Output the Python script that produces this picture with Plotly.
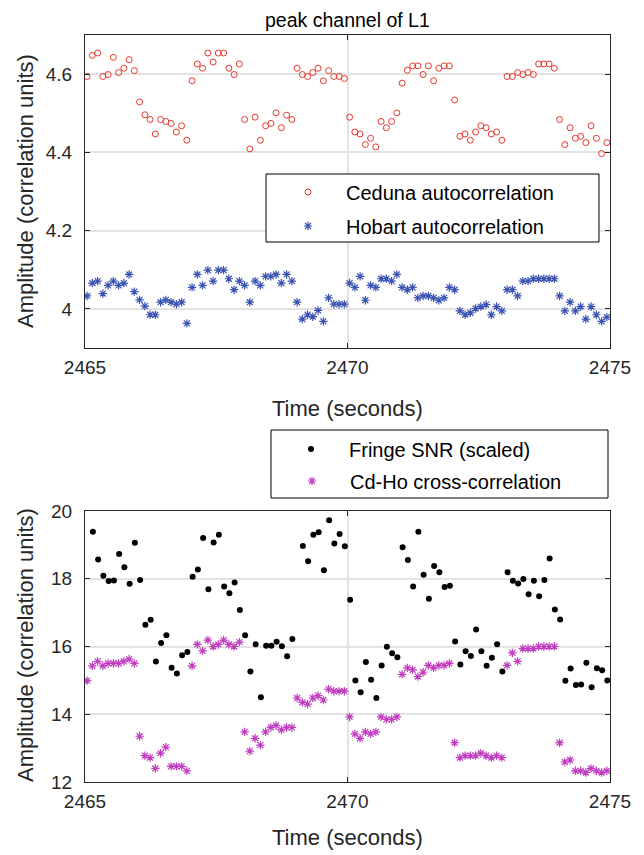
import plotly.graph_objects as go

# ---------------- data ----------------
# sample times (seconds) for the autocorrelation / cross-correlation series
t_main = [2465.04, 2465.14, 2465.24, 2465.34, 2465.44, 2465.54, 2465.64, 2465.74, 2465.84, 2465.94,
          2466.04, 2466.14, 2466.24, 2466.34, 2466.44, 2466.54, 2466.64, 2466.74, 2466.84, 2466.94,
          2467.04, 2467.14, 2467.24, 2467.34, 2467.44, 2467.54, 2467.64, 2467.74, 2467.84, 2467.94,
          2468.04, 2468.14, 2468.24, 2468.34, 2468.44, 2468.54, 2468.64, 2468.74, 2468.84, 2468.94,
          2469.04, 2469.14, 2469.24, 2469.34, 2469.44, 2469.54, 2469.64, 2469.74, 2469.84, 2469.94,
          2470.04, 2470.14, 2470.24, 2470.34, 2470.44, 2470.54, 2470.64, 2470.74, 2470.84, 2470.94,
          2471.04, 2471.14, 2471.24, 2471.34, 2471.44, 2471.54, 2471.64, 2471.74, 2471.84, 2471.94,
          2472.04, 2472.14, 2472.24, 2472.34, 2472.44, 2472.54, 2472.64, 2472.74, 2472.84, 2472.94,
          2473.04, 2473.14, 2473.24, 2473.34, 2473.44, 2473.54, 2473.64, 2473.74, 2473.84, 2473.94,
          2474.04, 2474.14, 2474.24, 2474.34, 2474.44, 2474.54, 2474.64, 2474.74, 2474.84, 2474.94]

ceduna = [4.594, 4.648, 4.654, 4.594, 4.599, 4.643, 4.604, 4.615, 4.637, 4.609,
          4.529, 4.496, 4.484, 4.447, 4.484, 4.479, 4.474, 4.452, 4.468, 4.431,
          4.583, 4.626, 4.615, 4.654, 4.631, 4.654, 4.654, 4.615, 4.599, 4.626,
          4.484, 4.409, 4.490, 4.431, 4.468, 4.474, 4.501, 4.463, 4.495, 4.484,
          4.615, 4.599, 4.594, 4.604, 4.615, 4.583, 4.609, 4.594, 4.594, 4.589,
          4.490, 4.452, 4.447, 4.420, 4.436, 4.414, 4.479, 4.463, 4.479, 4.501,
          4.577, 4.610, 4.621, 4.621, 4.599, 4.621, 4.583, 4.615, 4.621, 4.621,
          4.534, 4.441, 4.447, 4.431, 4.452, 4.468, 4.463, 4.447, 4.452, 4.431,
          4.594, 4.594, 4.604, 4.599, 4.604, 4.599, 4.626, 4.626, 4.626, 4.615,
          4.484, 4.420, 4.463, 4.436, 4.441, 4.425, 4.468, 4.436, 4.397, 4.425]

hobart = [4.033, 4.066, 4.071, 4.039, 4.060, 4.071, 4.060, 4.066, 4.088, 4.044,
          4.023, 4.007, 3.985, 3.985, 4.017, 4.023, 4.017, 4.012, 4.017, 3.963,
          4.055, 4.088, 4.060, 4.099, 4.071, 4.099, 4.099, 4.077, 4.049, 4.071,
          4.060, 4.017, 4.071, 4.060, 4.083, 4.083, 4.088, 4.066, 4.088, 4.071,
          4.017, 3.974, 3.985, 3.980, 3.996, 3.968, 4.028, 4.012, 4.012, 4.012,
          4.066, 4.055, 4.083, 4.022, 4.060, 4.055, 4.077, 4.077, 4.071, 4.088,
          4.055, 4.049, 4.055, 4.028, 4.033, 4.033, 4.028, 4.022, 4.028, 4.055,
          4.049, 3.995, 3.985, 3.990, 4.001, 4.006, 4.011, 3.985, 4.006, 3.995,
          4.049, 4.049, 4.033, 4.071, 4.071, 4.077, 4.077, 4.077, 4.077, 4.077,
          4.033, 3.995, 4.017, 3.995, 4.006, 3.974, 4.006, 3.985, 3.968, 3.979]

crosscorr = [14.99, 15.43, 15.56, 15.43, 15.50, 15.50, 15.50, 15.56, 15.63, 15.50,
             13.35, 12.78, 12.72, 12.40, 12.85, 13.03, 12.46, 12.46, 12.46, 12.33,
             15.43, 16.06, 15.87, 16.19, 16.00, 16.06, 16.19, 16.06, 16.00, 16.13,
             13.48, 12.91, 13.29, 13.09, 13.48, 13.61, 13.67, 13.54, 13.61, 13.61,
             14.48, 14.35, 14.30, 14.48, 14.55, 14.42, 14.74, 14.68, 14.68, 14.68,
             13.92, 13.42, 13.29, 13.48, 13.42, 13.48, 13.92, 13.85, 13.85, 13.92,
             15.18, 15.37, 15.31, 15.11, 15.24, 15.44, 15.37, 15.44, 15.44, 15.50,
             13.16, 12.72, 12.78, 12.78, 12.78, 12.85, 12.78, 12.72, 12.78, 12.72,
             15.44, 15.81, 15.56, 15.94, 15.94, 15.94, 16.00, 16.00, 16.00, 16.00,
             13.16, 12.59, 12.65, 12.33, 12.33, 12.28, 12.40, 12.33, 12.28, 12.33]

# fringe SNR sample times (one sample missing near 2469.05)
t_snr = [2465.15, 2465.25, 2465.35, 2465.45, 2465.55, 2465.65, 2465.75, 2465.85, 2465.95,
         2466.05, 2466.15, 2466.25, 2466.35, 2466.45, 2466.55, 2466.65, 2466.75, 2466.85, 2466.95,
         2467.05, 2467.15, 2467.25, 2467.35, 2467.45, 2467.55, 2467.65, 2467.75, 2467.85, 2467.95,
         2468.05, 2468.15, 2468.25, 2468.35, 2468.45, 2468.55, 2468.65, 2468.75, 2468.85, 2468.95,
         2469.15, 2469.25, 2469.35, 2469.45, 2469.55, 2469.65, 2469.75, 2469.85, 2469.95,
         2470.05, 2470.15, 2470.25, 2470.35, 2470.45, 2470.55, 2470.65, 2470.75, 2470.85, 2470.95,
         2471.05, 2471.15, 2471.25, 2471.35, 2471.45, 2471.55, 2471.65, 2471.75, 2471.85, 2471.95,
         2472.05, 2472.15, 2472.25, 2472.35, 2472.45, 2472.55, 2472.65, 2472.75, 2472.85, 2472.95,
         2473.05, 2473.15, 2473.25, 2473.35, 2473.45, 2473.55, 2473.65, 2473.75, 2473.85, 2473.95,
         2474.05, 2474.15, 2474.25, 2474.35, 2474.45, 2474.55, 2474.65, 2474.75, 2474.85, 2474.95]

fringe_snr = [19.39, 18.57, 18.09, 17.93, 17.95, 18.73, 18.34, 17.85, 19.06,
              17.96, 16.64, 16.79, 15.56, 16.10, 16.33, 15.37, 15.20, 15.74, 15.84,
              18.06, 18.27, 19.20, 17.69, 19.07, 19.30, 17.77, 17.57, 17.89, 17.08,
              16.33, 15.26, 16.07, 14.50, 16.02, 16.02, 16.14, 16.01, 15.71, 16.22,
              18.97, 18.52, 19.30, 19.37, 18.25, 19.73, 19.04, 19.32, 18.96,
              17.38, 15.00, 14.65, 15.54, 15.02, 14.48, 15.44, 15.99, 15.80, 15.68,
              18.93, 18.55, 17.77, 19.39, 18.12, 17.41, 18.38, 18.19, 17.76, 17.79,
              16.15, 15.47, 15.86, 15.72, 16.50, 15.86, 15.43, 15.67, 16.07, 15.26,
              18.19, 17.94, 17.86, 17.99, 17.54, 17.94, 17.48, 17.96, 18.60, 17.09,
              16.80, 14.99, 15.35, 14.86, 14.88, 15.52, 14.80, 15.36, 15.30, 15.00]

x_ticks = [2465, 2470, 2475]
x_ticklabels = ["2465", "2470", "2475"]
y1_ticks = [4.0, 4.2, 4.4, 4.6]
y1_ticklabels = ["4", "4.2", "4.4", "4.6"]
y2_ticks = [12, 14, 16, 18, 20]
y2_ticklabels = ["12", "14", "16", "18", "20"]

# ---------------- layout helpers ----------------
# the page body has an 8px default margin, so the figure is drawn 8px smaller
# and all window-pixel positions are converted with that offset
OFF = 8
W, H = 644 - OFF, 855 - OFF
def px(x):
    return (x - OFF) / W
def py(y):
    return 1 - (y - OFF) / H

FONT = "Liberation Sans, Arial, Helvetica, sans-serif"
AX = "#262626"
RED = "#e8362c"
BLUE = "#3a52b2"
MAG = "#c03cc0"

fig = go.Figure()

fig.add_trace(go.Scatter(x=t_main, y=ceduna, mode="markers", name="Ceduna autocorrelation",
                         xaxis="x", yaxis="y", legend="legend", showlegend=True,
                         marker=dict(symbol="circle-open", size=6, color=RED, line=dict(width=1, color=RED))))
fig.add_trace(go.Scatter(x=t_main, y=hobart, mode="markers", name="Hobart autocorrelation",
                         xaxis="x", yaxis="y", legend="legend2", showlegend=True,
                         marker=dict(symbol="asterisk-open", size=7, color=BLUE, line=dict(width=1.2, color=BLUE))))
fig.add_trace(go.Scatter(x=t_snr, y=fringe_snr, mode="markers", name="Fringe SNR (scaled)",
                         xaxis="x2", yaxis="y2", legend="legend3", showlegend=True,
                         marker=dict(symbol="circle", size=6, color="black")))
fig.add_trace(go.Scatter(x=t_main, y=crosscorr, mode="markers", name="Cd-Ho cross-correlation",
                         xaxis="x2", yaxis="y2", legend="legend4", showlegend=True,
                         marker=dict(symbol="asterisk-open", size=7, color=MAG, line=dict(width=1.2, color=MAG))))

common_x = dict(range=[2465, 2475], tickvals=x_ticks, ticktext=x_ticklabels, automargin=False,
                showgrid=True, gridcolor="#e3e3e3", gridwidth=2, zeroline=False,
                showline=True, linecolor=AX, linewidth=1, mirror="ticks",
                ticks="inside", ticklen=5, tickcolor=AX, tickwidth=1,
                tickfont=dict(family=FONT, size=19, color=AX), ticklabelstandoff=2)
common_y = dict(showgrid=True, gridcolor="#e3e3e3", gridwidth=2, zeroline=False, automargin=False,
                showline=True, linecolor=AX, linewidth=1, mirror="ticks",
                ticks="inside", ticklen=5, tickcolor=AX, tickwidth=1,
                tickfont=dict(family=FONT, size=19, color=AX), ticklabelstandoff=8)

fig.update_layout(
    width=W, height=H, autosize=False,
    margin=dict(l=0, r=0, t=0, b=0, pad=0),
    paper_bgcolor="white", plot_bgcolor="white",
    font=dict(family=FONT, color="black"),
    xaxis=dict(domain=[px(85), px(610)], anchor="y", **common_x),
    yaxis=dict(domain=[py(348), py(35)], anchor="x", range=[3.9, 4.7],
               tickvals=y1_ticks, ticktext=y1_ticklabels, **common_y),
    xaxis2=dict(domain=[px(85), px(610)], anchor="y2", **common_x),
    yaxis2=dict(domain=[py(782), py(511)], anchor="x2", range=[12, 20],
                tickvals=y2_ticks, ticktext=y2_ticklabels, **common_y),
)

LEG_FONT = dict(family=FONT, size=20, color="black")
def leg(sym_x, sym_y):
    return dict(x=px(sym_x - 38), y=py(sym_y), xanchor="left", yanchor="middle",
                bgcolor="rgba(0,0,0,0)", borderwidth=0, font=LEG_FONT,
                itemwidth=66, itemclick=False, itemdoubleclick=False, visible=True)

fig.update_layout(legend=leg(308, 192), legend2=leg(308, 226),
                  legend3=leg(311, 449), legend4=leg(312, 481))

# legend boxes (drawn below the legend entries)
fig.add_shape(type="rect", xref="paper", yref="paper", x0=px(266), x1=px(599), y0=py(242), y1=py(174),
              fillcolor="white", line=dict(color="black", width=1), layer="above")
fig.add_shape(type="rect", xref="paper", yref="paper", x0=px(271), x1=px(608), y0=py(498), y1=py(430),
              fillcolor="white", line=dict(color="black", width=1), layer="above")

# titles
fig.add_annotation(text="peak channel of L1", x=px(347.5), y=py(20), xref="paper", yref="paper",
                   showarrow=False, xanchor="center", yanchor="middle",
                   font=dict(family=FONT, size=19.5, color="black"))
for yc in (191, 645):
    fig.add_annotation(text="Amplitude (correlation units)", x=px(25), y=py(yc), xref="paper", yref="paper",
                       showarrow=False, xanchor="center", yanchor="middle", textangle=-90,
                       font=dict(family=FONT, size=22, color=AX))
for yc in (408, 837):
    fig.add_annotation(text="Time (seconds)", x=px(347.5), y=py(yc), xref="paper", yref="paper",
                       showarrow=False, xanchor="center", yanchor="middle",
                       font=dict(family=FONT, size=22, color=AX))

fig.write_html("out.html")
